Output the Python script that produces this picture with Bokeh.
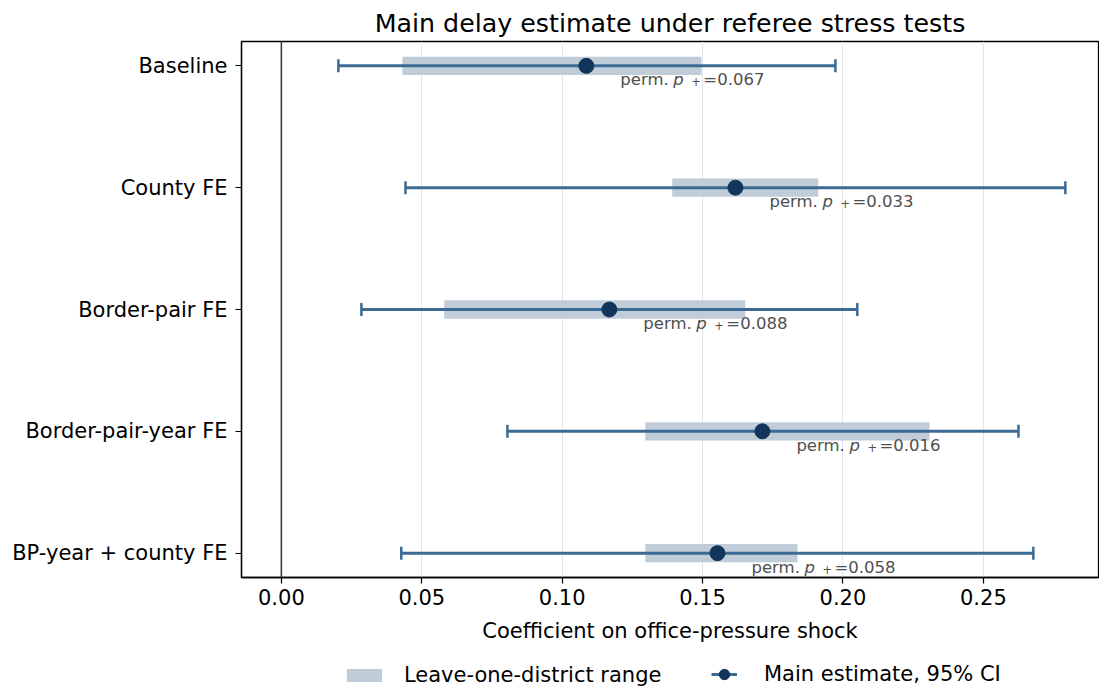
import math
from bokeh.plotting import figure
from bokeh.layouts import column
from bokeh.models import Range1d, FixedTicker, Legend, LegendItem, Span, ColumnDataSource
from bokeh.embed import file_html
from bokeh.resources import INLINE
from bokeh.core.properties import value

specs = ["Baseline", "County FE", "Border-pair FE", "Border-pair-year FE", "BP-year + county FE"]
estimate = [0.1086, 0.1617, 0.1168, 0.1713, 0.1553]
ci_low = [0.0203, 0.0442, 0.0285, 0.0805, 0.0427]
ci_high = [0.1973, 0.2792, 0.2051, 0.2625, 0.2678]
lodo_min = [0.0431, 0.1392, 0.0580, 0.1296, 0.1296]
lodo_max = [0.1496, 0.1912, 0.1652, 0.2308, 0.1838]
perm_p = [0.067, 0.033, 0.088, 0.016, 0.058]
x_ticks = [0.0, 0.05, 0.10, 0.15, 0.20, 0.25]
legend_labels = ["Leave-one-district range", "Main estimate, 95% CI"]

FONT = "DejaVu Sans"
BAND = "#c0ccd7"
LINE = "#3b6b94"
DOT = "#12355b"
ypos = list(range(len(specs)))

src = ColumnDataSource(dict(y=ypos, est=estimate, lo=ci_low, hi=ci_high,
                            bmin=lodo_min, bmax=lodo_max,
                            pre=["perm." for _ in perm_p],
                            pp=["p" for _ in perm_p],
                            sub=["+" for _ in perm_p],
                            val=["=%.3f" % v for v in perm_p]))

p = figure(width=1099, height=647, output_backend="svg", toolbar_location=None,
           x_range=Range1d(-0.0142, 0.291), y_range=Range1d(4.2, -0.2),
           min_border_left=241, min_border_right=1, min_border_top=41, min_border_bottom=70)

p.title.text = "Main delay estimate under referee stress tests"
p.title.align = "center"
p.title.text_font = FONT
p.title.text_font_size = "25.3px"
p.title.text_font_style = "normal"
p.title.text_color = "black"
p.title.standoff = 7

p.outline_line_color = "black"
p.outline_line_width = 1.3
p.outline_line_alpha = 1

p.xaxis.ticker = FixedTicker(ticks=x_ticks)
p.xaxis.major_label_overrides = {t: "%.2f" % t for t in x_ticks}
p.yaxis.ticker = FixedTicker(ticks=ypos)
p.yaxis.major_label_overrides = {i: s for i, s in zip(ypos, specs)}
for ax in (p.xaxis, p.yaxis):
    ax.major_label_text_font = FONT
    ax.major_label_text_font_size = "21px"
    ax.major_label_text_color = "black"
    ax.axis_line_color = "black"
    ax.axis_line_width = 1.3
    ax.major_tick_line_color = "black"
    ax.major_tick_line_width = 1.2
    ax.major_tick_out = 6
    ax.major_tick_in = 0
    ax.minor_tick_line_color = None
    ax.axis_label_text_font = FONT
    ax.axis_label_text_font_size = "21px"
    ax.axis_label_text_font_style = "normal"
    ax.axis_label_text_color = "black"
p.xaxis.axis_label = "Coefficient on office-pressure shock"
p.xaxis.major_label_standoff = 5
p.xaxis.axis_label_standoff = 11
p.yaxis.major_label_standoff = 8

p.xgrid.ticker = FixedTicker(ticks=x_ticks)
p.xgrid.grid_line_color = "#e3e3e3"
p.xgrid.grid_line_width = 1
p.ygrid.grid_line_color = None

p.add_layout(Span(location=0, dimension="height", line_color="#333333", line_width=1.5))

p.hbar(y="y", left="bmin", right="bmax", height=0.15, source=src,
       fill_color=BAND, line_color=None)
p.segment(x0="lo", y0="y", x1="hi", y1="y", source=src, line_color=LINE, line_width=3)
for col in ("lo", "hi"):
    p.scatter(x=col, y="y", source=src, marker="dash", size=13, angle=math.pi / 2,
              line_color=LINE, line_width=2.5)
p.scatter(x="est", y="y", source=src, size=15, fill_color=DOT, line_color=DOT)

common = dict(source=src, text_align="left", text_baseline="alphabetic",
              text_font=value(FONT), text_color="#4f4f4f")
p.text(x="est", y="y", text="pre", x_offset=34, y_offset=14, text_font_size="16.5px", **common)
p.text(x="est", y="y", text="pp", x_offset=87, y_offset=14, text_font_size="16.5px",
       text_font_style="italic", **common)
p.text(x="est", y="y", text="sub", x_offset=105, y_offset=16, text_font_size="11.5px", **common)
p.text(x="est", y="y", text="val", x_offset=117, y_offset=14, text_font_size="16.5px", **common)

# legend strip below the axes; its renderers use the same data but lie outside its view
lg = figure(width=1099, height=42, output_backend="svg", toolbar_location=None,
            x_range=Range1d(-0.0142, 0.291), y_range=Range1d(100, 101), min_border=0,
            x_axis_type=None, y_axis_type=None)
lg.outline_line_color = None
lg.grid.grid_line_color = None
band_proxy = lg.hbar(y="y", left="bmin", right="bmax", height=0.15, source=src,
                     fill_color=BAND, line_color=None)
line_proxy = lg.segment(x0="lo", y0="y", x1="hi", y1="y", source=src,
                        line_color=LINE, line_width=3)
dot_proxy = lg.scatter(x="est", y="y", source=src, size=15, fill_color=DOT, line_color=DOT)

leg_common = dict(orientation="horizontal", border_line_color=None, background_fill_alpha=0,
                  padding=0, margin=0, label_text_font=FONT, label_text_font_size="21px",
                  label_text_color="black", label_height=25)
leg1 = Legend(items=[LegendItem(label=legend_labels[0], renderers=[band_proxy])],
              location=(101, 2), glyph_width=44, glyph_height=16, label_standoff=18, **leg_common)
leg2 = Legend(items=[LegendItem(label=legend_labels[1], renderers=[line_proxy, dot_proxy])],
              location=(470, 0), glyph_width=26, glyph_height=30, label_standoff=27, **leg_common)
lg.add_layout(leg1, "center")
lg.add_layout(leg2, "center")

open("out.html", "w").write(file_html(column(p, lg, spacing=0), INLINE))
